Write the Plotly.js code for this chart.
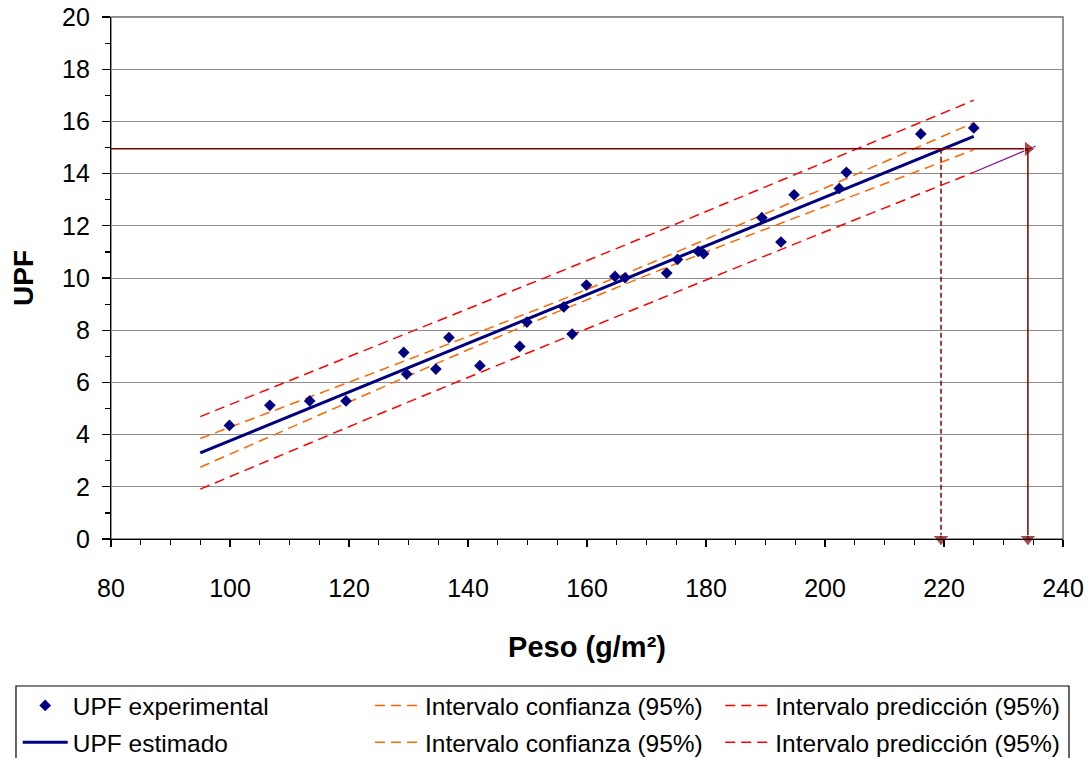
<!DOCTYPE html>
<html>
<head>
<meta charset="utf-8">
<script src="https://cdn.plot.ly/plotly-3.0.1.min.js"></script>
<style>html,body{margin:0;padding:0;background:#fff;}#chart{width:1088px;height:758px;}</style>
</head>
<body>
<div id="chart"></div>
<script>
// Experimental points
const pesoExp = [99.9, 106.7, 113.4, 119.5, 129.2, 129.7, 134.6, 136.8, 142.0, 148.7, 149.9, 156.1, 157.5, 159.9, 164.7, 166.4, 173.4, 175.2, 178.7, 179.6, 189.4, 192.6, 194.8, 202.4, 203.6, 216.1, 225.0];
const upfExp  = [4.35, 5.12, 5.29, 5.29, 7.15, 6.32, 6.51, 7.72, 6.64, 7.38, 8.31, 8.89, 7.85, 9.73, 10.06, 10.01, 10.19, 10.71, 11.02, 10.93, 12.31, 11.38, 13.19, 13.43, 14.05, 15.52, 15.75];

// Fitted line and bands (read at sample weights)
const pesoBand  = [95, 110, 125, 140, 155, 170, 185, 200, 215, 225];
const upfFit    = [3.30, 4.70, 6.10, 7.50, 8.90, 10.30, 11.70, 13.10, 14.50, 15.43];
const confUpper = [3.85, 5.14, 6.44, 7.76, 9.10, 10.50, 11.96, 13.45, 14.95, 15.95];
const confLower = [2.75, 4.26, 5.76, 7.25, 8.70, 10.10, 11.44, 12.75, 14.05, 14.91];
const predUpper = [4.69, 6.06, 7.43, 8.81, 10.20, 11.60, 13.01, 14.43, 15.86, 16.81];
const predLower = [1.91, 3.35, 4.78, 6.19, 7.60, 9.00, 10.39, 11.77, 13.14, 14.05];

// Reading guides
const upfTarget = 14.95;
const pesoEstimado = 219.5;
const pesoMaximo = 234.1;
const extPeso = [225.0, 235.4];
const extUpf  = [14.05, 15.05];

const FONT = 'Arial, "Liberation Sans", sans-serif';
const NAVY = '#000080', ORANGE = '#FF6600', RED = '#FF0000', DRED = '#800000';

const traces = [
  {x: pesoBand, y: confUpper, mode: 'lines', name: 'Intervalo confianza (95%)', legend: 'legend2', legendgroup: 'c1',
   line: {color: ORANGE, width: 1.5, dash: '10px,6px'}},
  {x: pesoBand, y: confLower, mode: 'lines', name: 'Intervalo confianza (95%)', legend: 'legend2', legendgroup: 'c2',
   line: {color: ORANGE, width: 1.5, dash: '10px,6px'}},
  {x: pesoBand, y: predUpper, mode: 'lines', name: 'Intervalo predicción (95%)', legend: 'legend3', legendgroup: 'p1',
   line: {color: RED, width: 1.5, dash: '10px,6px'}},
  {x: pesoBand, y: predLower, mode: 'lines', name: 'Intervalo predicción (95%)', legend: 'legend3', legendgroup: 'p2',
   line: {color: RED, width: 1.5, dash: '10px,6px'}},
  {x: extPeso, y: extUpf, mode: 'lines', showlegend: false, line: {color: '#800080', width: 1.2}},
  {x: pesoBand, y: upfFit, mode: 'lines', name: 'UPF estimado', legend: 'legend', legendgroup: 'f', legendrank: 2,
   line: {color: NAVY, width: 3}},
  {x: pesoExp, y: upfExp, mode: 'markers', name: 'UPF experimental', legend: 'legend', legendgroup: 'e', legendrank: 1,
   marker: {symbol: 'diamond', color: NAVY, size: 9}},
  {x: [80, pesoMaximo], y: [upfTarget, upfTarget], mode: 'lines+markers', showlegend: false, cliponaxis: false,
   line: {color: DRED, width: 1.5}, marker: {symbol: 'triangle-right', size: [0, 14], color: DRED}},
  {x: [pesoMaximo, pesoMaximo], y: [upfTarget, 0], mode: 'lines+markers', showlegend: false, cliponaxis: false,
   line: {color: DRED, width: 1.5}, marker: {symbol: 'triangle-down', size: [0, 14], color: DRED}},
  {x: [pesoEstimado, pesoEstimado], y: [upfTarget, 0], mode: 'lines+markers', showlegend: false, cliponaxis: false,
   line: {color: DRED, width: 1.5, dash: '5px,3px'}, marker: {symbol: 'triangle-down', size: [0, 14], color: DRED}}
];

const legBase = {
  orientation: 'v', yanchor: 'top', xanchor: 'left', y: -0.2759,
  bgcolor: 'rgba(0,0,0,0)', borderwidth: 0, tracegroupgap: 2,
  font: {family: FONT, size: 24.5, color: '#000'}, itemwidth: 45, traceorder: 'grouped'
};

const layout = {
  width: 1088, height: 758,
  paper_bgcolor: '#fff', plot_bgcolor: '#fff',
  margin: {l: 111, r: 25, t: 17, b: 219, autoexpand: false},
  font: {family: FONT, color: '#000'},
  xaxis: {
    range: [80, 240], dtick: 20, tick0: 80,
    showgrid: false, zeroline: false,
    showline: true, linecolor: '#000', linewidth: 1.2,
    ticks: 'outside', ticklen: 7, tickcolor: '#000', tickwidth: 1.2,
    minor: {dtick: 5, ticks: 'outside', ticklen: 5, tickcolor: '#000', showgrid: false},
    tickfont: {family: FONT, size: 25, color: '#000'}, ticklabelstandoff: 20,
    title: {text: '<b>Peso (g/m²)</b>', font: {family: FONT, size: 29, color: '#000'}, standoff: 35}
  },
  yaxis: {
    range: [0, 20], dtick: 2, tick0: 0,
    showgrid: true, gridcolor: '#8c8c8c', gridwidth: 1, zeroline: false,
    showline: true, linecolor: '#000', linewidth: 1.2,
    ticks: 'outside', ticklen: 8, tickcolor: '#000', tickwidth: 1.2,
    minor: {dtick: 1, ticks: 'outside', ticklen: 5, tickcolor: '#000', showgrid: false},
    tickfont: {family: FONT, size: 25, color: '#000'}, ticklabelstandoff: 7,
    title: {text: '<b>UPF</b>', font: {family: FONT, size: 28, color: '#000'}, standoff: 20}
  },
  showlegend: true,
  legend: Object.assign({}, legBase, {x: -0.098}),
  legend2: Object.assign({}, legBase, {x: 0.272}),
  legend3: Object.assign({}, legBase, {x: 0.640}),
  shapes: [
    {type: 'rect', xref: 'paper', yref: 'paper', x0: 0, x1: 1, y0: 0, y1: 1,
     line: {color: '#6e6e6e', width: 1.5}, layer: 'below'},
    {type: 'rect', xref: 'paper', yref: 'paper', x0: -0.0998, x1: 1.0063, y0: -0.2816, y1: -0.5,
     line: {color: '#000', width: 1.2}}
  ]
};

Plotly.newPlot('chart', traces, layout, {displayModeBar: false, staticPlot: true});
</script>
</body>
</html>
